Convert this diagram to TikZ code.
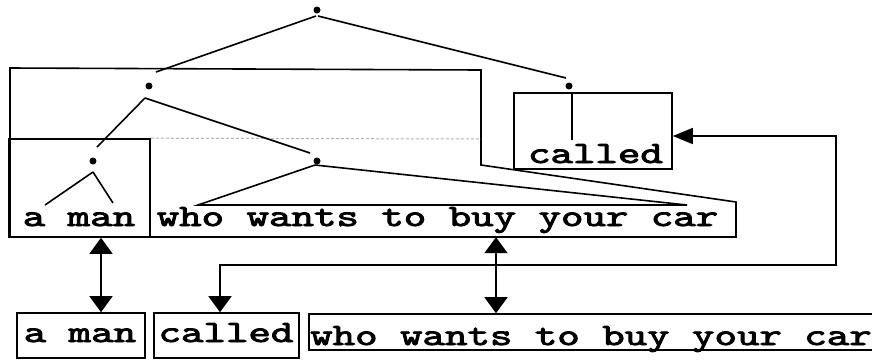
\documentclass[tikz,border=0pt]{standalone}
\usepackage{fontspec}
\newfontfamily\cour{lmmono10-regular.otf}[FakeBold=2.4]
\usetikzlibrary{arrows.meta,calc}
\newcommand\wx[1]{\scalebox{1.38}[1]{#1}}
\tikzset{
  ln/.style={line width=1.6pt},
  dot/.style={circle,fill,inner sep=0pt,minimum size=7pt},
  wd/.style={inner sep=0pt,anchor=base,font=\cour\fontsize{31}{31}\selectfont},
  bx/.style={draw,line width=1.6pt,inner sep=0pt},
  area/.style={inner sep=0pt},
  dbl/.style={ln,{Triangle[length=16pt,width=23pt]}-{Triangle[length=16pt,width=23pt]}},
  loop/.style={ln,{Triangle[length=20pt,width=16pt]}-{Triangle[length=16pt,width=23pt]}},
}
\begin{document}
\begin{tikzpicture}[x=1pt,y=-1pt]
\useasboundingbox (0,0) rectangle (872,360);
% dots
\node[dot] (root) at (317,10) {};
\node[dot] (mid) at (149,86) {};
\node[dot] (cdot) at (569,86) {};
\node[dot] (adot) at (93,161) {};
\node[dot] (wdot) at (317,161) {};
% boxes
\node[bx,minimum width=141pt,minimum height=98pt] (abox) at (79.5,188) {};
\node[area,minimum width=586pt,minimum height=98pt] (wbox) at (443,188) {};
\node[bx,minimum width=158pt,minimum height=76pt] (cbox) at (593,131) {};
\node[bx,minimum width=128pt,minimum height=45pt] (b1) at (81,335.5) {};
\node[bx,minimum width=145pt,minimum height=45pt] (b2) at (226.5,335.5) {};
\node[bx,minimum width=570pt,minimum height=36pt] (b3) at (594,332) {};
% outline of the relative clause NP
\draw[ln] (10,68) -- (481,70) -- (481,165) -- (736,202) -- (736,237) -- (10,237) -- cycle;
\draw[gray!60,line width=1pt,densely dashed] (abox.north east) -- (481,139);
% texts
\node[wd] (taman) at (79,226) {\wx{a man}};
\node[wd] (twho) at (437.5,226) {\wx{who wants to buy your car}};
\node[wd] (tcalled) at (595.5,163) {\wx{called}};
\node[wd] (uaman) at (80,342) {\wx{a man}};
\node[wd] (ucalled) at (226,342) {\wx{called}};
\node[wd] (uwho) at (591,345) {\wx{who wants to buy your car}};
% tree line ends
\coordinate (r1) at (156,72);
\coordinate (r2) at (566,78);
\coordinate (m1) at (97,147);
\coordinate (m2) at (310,153);
\coordinate (a1) at (45,205);
\coordinate (a2) at (113,203);
\coordinate (w1) at (198,205);
\coordinate (w2) at (687,205);
\coordinate (c1) at (572,140);
\draw[ln] ($(root)+(-1,6)$) -- (r1);
\draw[ln] ($(root)+(1,6)$) -- (r2);
\draw[ln] ($(mid)+(-4,12)$) -- (m1);
\draw[ln] ($(mid)+(-4,12)$) -- (m2);
\draw[ln] ($(adot)+(0,11)$) -- (a1);
\draw[ln] ($(adot)+(0,11)$) -- (a2);
\draw[ln] ($(wdot)+(-2,4)$) -- (w1) -- (w2) -- ($(wdot)+(-2,4)$);
\draw[ln] (cbox.north -| c1) -- (c1);
% connectors
\coordinate (xa) at (101,0);
\coordinate (xw) at (496,0);
\coordinate (xc) at (220,0);
\coordinate (k1) at (836,136);
\coordinate (k2) at (836,265);
\coordinate (k3) at (220,265);
\draw[dbl] (abox.south -| xa) -- (b1.north -| xa);
\draw[dbl] (wbox.south -| xw) -- (b3.north -| xw);
\draw[loop] (cbox.east |- k1) -- (k1) -- (k2) -- (k3) -- (b2.north -| xc);
\end{tikzpicture}
\end{document}
